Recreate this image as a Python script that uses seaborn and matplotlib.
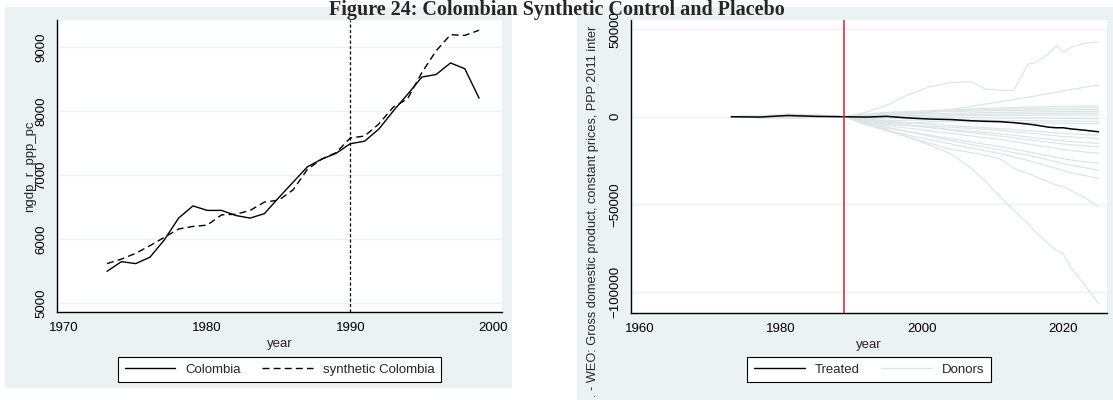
import numpy as np
import pandas as pd
import matplotlib
matplotlib.use("Agg")
import matplotlib.pyplot as plt
from matplotlib.patches import Rectangle
from matplotlib.lines import Line2D
import seaborn as sns

# --- data: left panel (Colombia vs synthetic) ---
years_col = list(range(1973, 2000))
colombia = [5500, 5650, 5620, 5720, 5990, 6330, 6520, 6450, 6450, 6370, 6330, 6400,
            6650, 6890, 7130, 7250, 7340, 7490, 7530, 7720, 8000, 8260, 8530, 8570,
            8750, 8660, 8200]
synthetic = [5620, 5690, 5780, 5900, 6030, 6160, 6200, 6220, 6380, 6390, 6450, 6580,
             6610, 6770, 7090, 7250, 7350, 7580, 7610, 7800, 8060, 8190, 8600, 8940,
             9190, 9180, 9260]

# --- data: right panel (placebo gaps) ---
gap_years = [1973, 1977, 1981, 1985, 1989, 1992, 1995, 1998, 2001, 2004, 2007,
             2009, 2011, 2013, 2015, 2016, 2018, 2019, 2020, 2021, 2023, 2025]
treated = [0, -200, 700, 200, 0, -200, 200, -700, -1300, -1600, -2300,
           -2600, -2800, -3400, -4200, -4700, -6000, -6300, -6300, -6900, -7700, -8600]
donors = {
    "d01": [0, 300, 900, 600, 0, 2500, 6500, 12500, 17000, 19500, 20000,
            15800, 15200, 15000, 30100, 30900, 36000, 40600, 36800, 39500, 42000, 42700],
    "d02": [0, -300, 200, -200, 0, 300, 800, 1500, 2500, 4000, 6000,
            7300, 8500, 9800, 11200, 11800, 13300, 14000, 14800, 15500, 16800, 18100],
    "d03": [0, 500, 1200, 800, 0, 1500, 2500, 3000, 3500, 4000, 4500,
            4800, 5000, 5200, 5500, 5600, 5800, 5900, 6000, 6000, 6100, 6100],
    "d04": [0, -400, 600, 300, 0, 800, 1500, 2200, 2800, 3300, 3800,
            4000, 4200, 4400, 4600, 4700, 4800, 4900, 4900, 5000, 5000, 5000],
    "d05": [0, 200, 1500, 1000, 0, 1200, 2000, 2400, 2800, 3000, 3200,
            3400, 3500, 3600, 3700, 3800, 3800, 3900, 3900, 4000, 4000, 4000],
    "d06": [0, -200, 400, -300, 0, 600, 1000, 1300, 1700, 2000, 2200,
            2400, 2500, 2600, 2700, 2800, 2900, 2900, 3000, 3000, 3000, 3100],
    "d07": [0, 300, -500, 200, 0, -300, 200, 600, 900, 1100, 1300,
            1500, 1600, 1700, 1800, 1800, 1900, 1900, 2000, 2000, 2000, 2000],
    "d08": [0, -500, -800, -400, 0, 400, 300, 200, 400, 500, 600,
            700, 700, 800, 800, 900, 900, 900, 1000, 1000, 1000, 1000],
    "d09": [0, 400, 300, 500, 0, -800, -1200, -600, -400, -500, -600,
            -700, -700, -800, -900, -900, -900, -1000, -1000, -1000, -1100, -1100],
    "d10": [0, -600, -1000, -300, 0, -1500, -2500, -2000, -1800, -1800, -1900,
            -2000, -2100, -2200, -2200, -2300, -2400, -2400, -2400, -2500, -2500, -2600],
    "d11": [0, 200, -300, 400, 0, -2000, -3000, -3600, -3000, -2800, -2900,
            -3000, -3100, -3200, -3400, -3500, -3600, -3700, -3800, -3800, -3900, -4000],
    "d12": [0, 300, 500, 200, 0, -1000, -2500, -3500, -4200, -5000, -5800,
            -6300, -6800, -7300, -7900, -8200, -8800, -9200, -9500, -9800, -10200, -10500],
    "d13": [0, -200, 700, 400, 0, -2000, -4200, -5000, -5400, -6000, -6700,
            -7200, -7800, -8500, -9300, -9700, -10500, -10900, -11300, -11600, -12000, -12400],
    "d14": [0, 400, 1000, 600, 0, -2500, -3800, -5000, -6000, -7200, -8300,
            -9000, -9800, -10600, -11500, -12000, -12900, -13400, -13800, -14200, -14700, -15200],
    "d15": [0, -400, -200, 300, 0, -1500, -3000, -4500, -6200, -7700, -9200,
            -10100, -11000, -12000, -13000, -13600, -14600, -15100, -15600, -16000, -16600, -17200],
    "d16": [0, 100, 800, -200, 0, -3000, -5000, -6500, -8000, -9500, -11000,
            -12000, -13000, -14200, -15500, -16200, -17400, -18100, -18800, -19300, -20100, -20900],
    "d17": [0, -300, 400, 500, 0, -3500, -6500, -8500, -10500, -12500, -14500,
            -15800, -17000, -18500, -20000, -20800, -22400, -23200, -24000, -24700, -25700, -26700],
    "d18": [0, 500, 1500, 900, 0, -3000, -6000, -8500, -11000, -13500, -16000,
            -17500, -19000, -20500, -22000, -22800, -24800, -25800, -26800, -27700, -29100, -30500],
    "d19": [0, -200, 200, -500, 0, -4000, -7800, -10500, -13000, -15500, -18000,
            -19500, -21000, -23000, -25000, -26000, -28500, -29500, -30800, -32000, -33600, -35300],
    "d20": [0, 200, -400, 300, 0, -4500, -8000, -11500, -15000, -18500, -20500,
            -22000, -24000, -29500, -32500, -34000, -37500, -39000, -40000, -42000, -46000, -51500],
    "d21": [0, -300, -600, -200, 0, -3000, -7300, -11800, -16000, -21000, -29500,
            -37000, -45500, -53500, -61000, -65500, -73000, -76300, -78200, -85800, -96000, -106800],
}

# --- style ---
W, H = 1113, 400
BG = "#EAF2F3"
DONOR = "#DCE6E9"
FS = 9.5
sns.set_theme(style="white")
plt.rcParams["font.family"] = ["Liberation Sans", "DejaVu Sans"]
plt.rcParams["axes.linewidth"] = 1.0

fig = plt.figure(figsize=(W / 100, H / 100), dpi=100)
fig.patch.set_facecolor("white")


def px_rect(x0, y0, x1, y1):
    return Rectangle((x0 / W, 1 - y1 / H), (x1 - x0) / W, (y1 - y0) / H,
                     transform=fig.transFigure, facecolor=BG, edgecolor="none", zorder=0)


fig.add_artist(px_rect(5, 7, 512, 388))
fig.add_artist(px_rect(577, 7, 1113, 400))


def px_axes(x0, y0, x1, y1):
    return fig.add_axes([x0 / W, 1 - y1 / H, (x1 - x0) / W, (y1 - y0) / H])


def stata_axes(ax):
    ax.set_facecolor("white")
    for s in ["top", "right"]:
        ax.spines[s].set_visible(False)
    for s in ["left", "bottom"]:
        ax.spines[s].set_color("black")
        ax.spines[s].set_linewidth(1.0)
    ax.tick_params(axis="both", direction="out", length=4, width=0.8, color="#222222",
                   labelsize=FS, labelcolor="black", pad=3)
    ax.tick_params(axis="y", labelrotation=90)
    for lab in ax.get_yticklabels():
        lab.set_va("center")
    ax.grid(axis="y", color=BG, linewidth=1.0)
    ax.grid(axis="x", visible=False)
    ax.set_axisbelow(True)


def stata_legend(ax, handles, labels, cx):
    leg = ax.legend(handles, labels, loc="center",
                    bbox_to_anchor=(cx / W, 1 - 369.5 / H), bbox_transform=fig.transFigure,
                    ncol=2, frameon=True, fancybox=False, edgecolor="black",
                    facecolor="white", framealpha=1, fontsize=FS, handlelength=3.85,
                    columnspacing=1.6, handletextpad=0.75, borderpad=0.5)
    leg.get_frame().set_linewidth(0.8)
    return leg


# --- left panel ---
ax1 = px_axes(57, 20, 502, 312)
left_df = pd.DataFrame({"year": years_col, "Colombia": colombia, "synthetic": synthetic})
sns.lineplot(data=left_df, x="year", y="Colombia", ax=ax1, color="black", linewidth=1.0)
sns.lineplot(data=left_df, x="year", y="synthetic", ax=ax1, color="black", linewidth=1.0,
             dashes=False, linestyle=(0, (5, 3)))
ax1.axvline(1990, color="black", linewidth=0.9, linestyle=(0, (2.5, 1.8)))
ax1.set_xlim(1969.5, 2000.6)
ax1.set_ylim(4865, 9420)
ax1.set_xticks([1970, 1980, 1990, 2000])
ax1.set_yticks([5000, 6000, 7000, 8000, 9000])
stata_axes(ax1)
ax1.set_xlabel("year", fontsize=FS, labelpad=3)
ax1.set_ylabel("ngdp_r_ppp_pc", fontsize=FS)
ax1.yaxis.set_label_coords(-0.047, 0.5)

h1 = [Line2D([], [], color="black", lw=1.0),
      Line2D([], [], color="black", lw=1.0, linestyle=(0, (5, 3)))]
stata_legend(ax1, h1, ["Colombia", "synthetic Colombia"], 279.5)

# --- right panel ---
ax2 = px_axes(631, 20, 1107, 313)
donor_df = pd.DataFrame(
    [(name, y, v) for name, vals in donors.items() for y, v in zip(gap_years, vals)],
    columns=["donor", "year", "gap"])
sns.lineplot(data=donor_df, x="year", y="gap", units="donor", estimator=None, ax=ax2,
             color=DONOR, linewidth=0.9)
treated_df = pd.DataFrame({"year": gap_years, "gap": treated})
sns.lineplot(data=treated_df, x="year", y="gap", ax=ax2, color="black", linewidth=1.1)
ax2.axvline(1989, color="#D6304F", linewidth=1.2)
ax2.set_xlim(1958.8, 2026.2)
ax2.set_ylim(-112200, 55300)
ax2.set_xticks([1960, 1980, 2000, 2020])
ax2.set_yticks([-100000, -50000, 0, 50000])
stata_axes(ax2)
ax2.set_xlabel("year", fontsize=FS, labelpad=3)
ax2.set_ylabel("")
# axis title as it shows in the original (cut at both ends there)
fig.text(593 / W, 1 - 397 / H,
         ". - WEO: Gross domestic product, constant prices, PPP 2011 inter",
         rotation=90, ha="center", va="bottom", fontsize=9.2)

h2 = [Line2D([], [], color="black", lw=1.0), Line2D([], [], color=DONOR, lw=1.0)]
stata_legend(ax2, h2, ["Treated", "Donors"], 869)

# --- title ---
fig.text(0.5, 0.999, "Figure 24: Colombian Synthetic Control and Placebo",
         ha="center", va="top", fontsize=14.5, fontweight="bold",
         family=["Liberation Serif", "DejaVu Serif"])

fig.savefig("out.png", dpi=100)
